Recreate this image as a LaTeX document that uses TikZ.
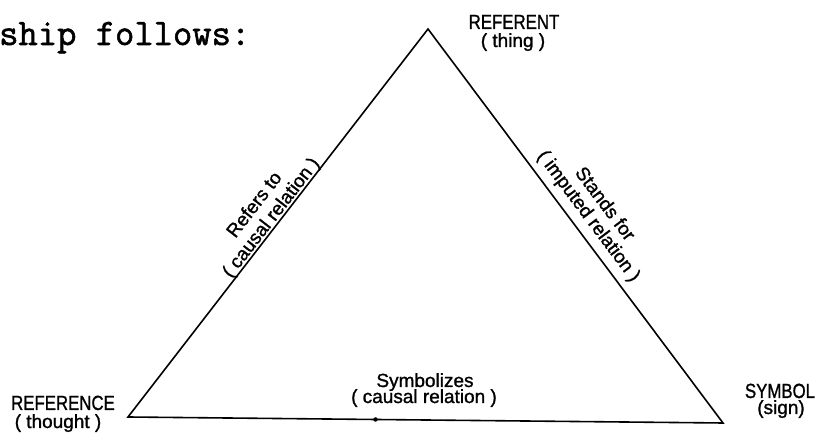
\documentclass[tikz,border=0pt]{standalone}
\usepackage{fontspec}
\newfontfamily\labfont[FakeBold=1.2]{Liberation Sans}
\newfontfamily\monofont[FakeBold=1.5]{Latin Modern Mono}
\usetikzlibrary{calc}
\begin{document}
\begin{tikzpicture}[x=1pt,y=1pt,
  edge/.style={line width=1.6pt},
  caps/.style={font=\labfont\fontsize{20.5}{22}\selectfont, anchor=base, xscale=0.82},
  lab/.style={font=\labfont\fontsize{19}{21}\selectfont, anchor=base},
  mono/.style={font=\monofont\fontsize{37.5}{40}\selectfont, anchor=base west, inner sep=0pt}
]
\useasboundingbox (0,0) rectangle (825,441);
% vertices
\coordinate (A) at (428,412);
\coordinate (L) at (128,24);
\coordinate (R) at (723,18);
\draw[edge] (L) -- (A) -- (R) -- cycle;
\node[circle, fill, inner sep=0pt, minimum size=4.5pt] (dot) at ($(L)!0.416!(R)$) {};
% typed text
\node[mono] (ship) at (-1,396) {ship follows:};
% corner labels
\node[caps] (referent) at (514,412) {REFERENT};
\node[lab] (thing) at (513,394) {( thing )};
\node[caps] (reference) at (63,31) {REFERENCE};
\node[lab] (thought) at (58,13) {( thought )};
\node[caps] (symbol) at (780,43) {SYMBOL};
\node[lab] (sign) at (781,27) {(sign)};
% base label
\node[lab] (symbolizes) at (425,54) {Symbolizes};
\node[lab] (causalB) at (424,38) {( causal relation )};
% left edge labels
\path (L) -- (A) coordinate[pos=0.5] (ml);
\node[lab, rotate=52.28] (causalL) at ($(ml)!3pt!90:(A)$) {( causal relation )};
\node[lab, rotate=52.28] (refers) at ($(ml)!24pt!90:(A)$) {Refers to};
% right edge labels
\path (A) -- (R) coordinate[pos=0.5] (mr);
\node[lab, rotate=-53.18] (imputed) at ($(mr)!11pt!90:(R)$) {( imputed relation )};
\node[lab, rotate=-53.18] (stands) at ($(mr)!31pt!90:(R)$) {Stands for};
\end{tikzpicture}
\end{document}
